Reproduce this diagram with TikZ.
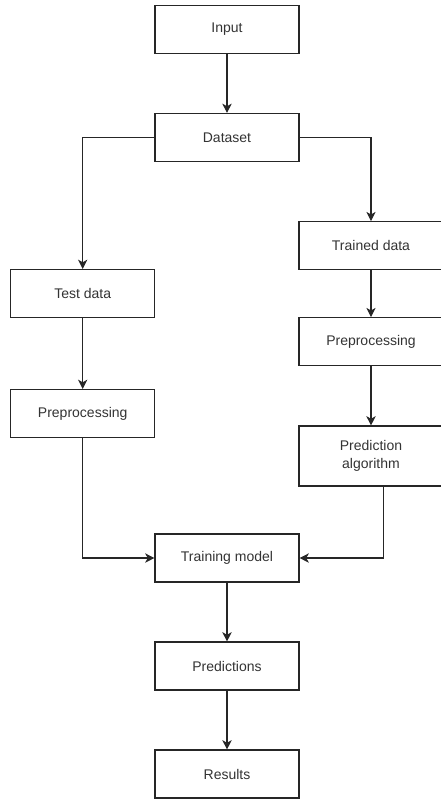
\documentclass[tikz,border=0pt]{standalone}
\usepackage{fontspec}
\setmainfont{Liberation Sans}
\usetikzlibrary{arrows.meta}
\begin{document}
\begin{tikzpicture}[x=0.75pt,y=-0.75pt,
  box/.style={draw=black!85, line width=0.8pt, minimum width=108pt, minimum height=36pt,
    inner sep=0pt, align=center, font=\fontsize{10.5}{12}\selectfont, text=black!80},
  conn/.style={draw=black!85, line width=0.8pt, -{Stealth[length=7pt,width=7pt,inset=2pt]}}]
\useasboundingbox (0,0) rectangle (440,799);
\node[box] (input) at (227,29.3) {Input};
\node[box] (dataset) at (227,137.5) {Dataset};
\node[box] (test) at (82.7,293.5) {Test data};
\node[box] (trained) at (371,245.7) {Trained data};
\node[box] (prepR) at (371,341.7) {Preprocessing};
\node[box] (prepL) at (82.7,413.5) {Preprocessing};
\node[box, minimum height=45pt] (alg) at (371,456) {Prediction\\[1pt]algorithm};
\node[box] (train) at (227,558) {Training model};
\node[box] (pred) at (227,666) {Predictions};
\node[box] (res) at (227,774) {Results};
\coordinate (algout) at (383.3,486);
\draw[conn] (input) -- (dataset);
\draw[conn] (dataset.west) -| (test.north);
\draw[conn] (dataset.east) -| (trained.north);
\draw[conn] (test) -- (prepL);
\draw[conn] (trained) -- (prepR);
\draw[conn] (prepR) -- (alg);
\draw[conn] (prepL.south) |- (train.west);
\draw[conn] (algout) |- (train.east);
\draw[conn] (train) -- (pred);
\draw[conn] (pred) -- (res);
\end{tikzpicture}
\end{document}
